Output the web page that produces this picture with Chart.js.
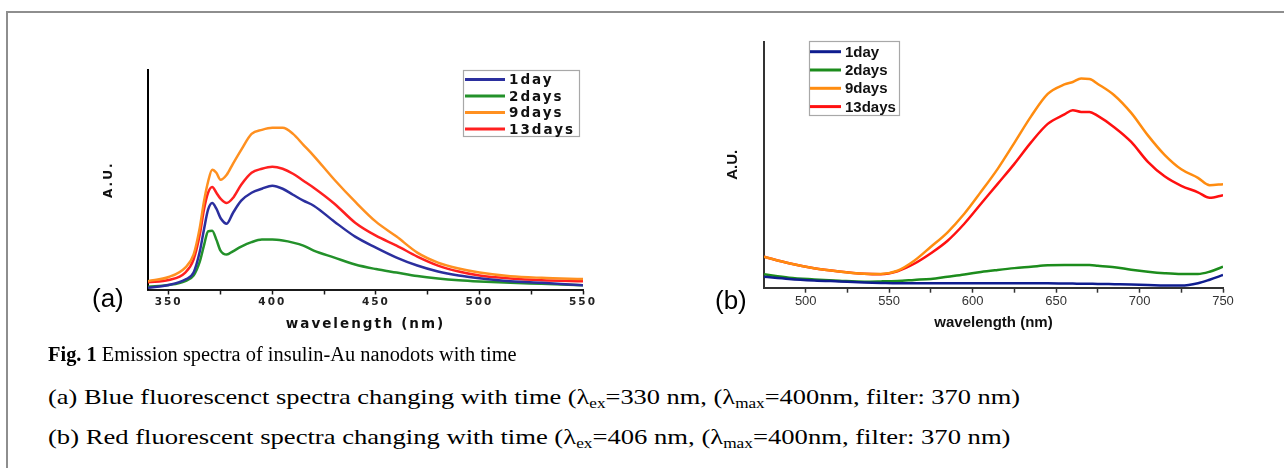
<!DOCTYPE html>
<html><head><meta charset="utf-8">
<script src="https://cdn.jsdelivr.net/npm/chart.js@4.4.1/dist/chart.umd.min.js"></script>
<style>
html,body{margin:0;padding:0;background:#fff;width:1284px;height:468px;overflow:hidden;position:relative;}
#frame{position:absolute;left:6px;top:11px;width:1400px;height:600px;border:2px solid #8e8e8e;box-sizing:border-box;}
canvas{position:absolute;top:0;}
#ca{left:0;}
#cb{left:640px;}
.panel{position:absolute;font-family:"Liberation Sans",Arial,sans-serif;font-size:26px;line-height:26px;color:#000;}
.cap{position:absolute;left:48px;font-family:"Liberation Serif","Times New Roman",serif;font-size:20px;line-height:24px;color:#000;white-space:nowrap;transform-origin:0 50%;}
.cap.big{font-size:22px;}
.cap sub{font-size:0.65em;line-height:0;vertical-align:baseline;position:relative;top:4px;}
</style></head>
<body>
<div id="frame"></div>
<canvas id="ca" width="640" height="345"></canvas>
<canvas id="cb" width="644" height="345"></canvas>
<div class="panel" style="left:92px;top:285px;">(a)</div>
<div class="panel" style="left:715px;top:287px;">(b)</div>
<div class="cap" style="top:342px;transform:scaleX(1.02);"><b>Fig. 1</b> Emission spectra of insulin-Au nanodots with time</div>
<div class="cap big" style="top:385px;transform:scaleX(1.2);">(a) Blue fluorescenct spectra changing with time (λ<sub>ex</sub>=330 nm, (λ<sub>max</sub>=400nm, filter: 370 nm)</div>
<div class="cap big" style="top:425px;transform:scaleX(1.21);">(b) Red fluorescent spectra changing with time (λ<sub>ex</sub>=406 nm, (λ<sub>max</sub>=400nm, filter: 370 nm)</div>
<script>
// ---------- data ----------
const seriesLabels = ['1day', '2days', '9days', '13days'];

// panel (a): blue emission, wavelength (nm)
const wavelengthA = [340,350,358,362,365,367,369,371,373,375,378,381,385,390,395,400,405,410,415,420,430,440,450,460,470,480,490,500,515,530,550];
const a1day   = [1.7,4.5,10,17,38,60,80,86.7,81,71.7,66,76.7,89,97,101,104,101,95,89,84,68,53,42,32,24,18,14,11.3,8.3,6.7,4.3];
const a2days  = [2.7,4.5,8.5,14,28,44,58.3,59,50,39,35,38.3,43,47.5,50,50,49,47,44,39,32,25,20.5,17,13.5,11,9.2,8,6.7,5.7,4.3];
const a9days  = [8.3,12.5,22,35,62,88,108,120,117,110,115,126,140,156,160,162,162,156,145,134,110,88,68,53,37,27,21,17,13.3,11.7,10.5];
const a13days = [7.3,9.5,17,30,55,80,97,102.7,97,91,86.7,91.7,105,117,121,123,121,116,109,102,86,67,54,44,33,24,18,14,11,9.3,8.3];
const tickLabelsA = [350,400,450,500,550];
const minorTicksA = [375,425,475,525];

// panel (b): red emission, wavelength (nm)
const wavelengthB = [475,490,505,520,535,545,555,565,575,585,595,605,615,625,635,645,655,660,665,670,675,685,695,705,715,725,735,742,750];
const b1day   = [11,8.8,7.3,6.3,5.3,4.8,4.4,4.4,4.4,4.4,4.4,4.4,4.4,4.4,4.4,4.4,4.2,4.1,4,3.9,3.8,3.5,3.2,2.8,2.2,2.2,4.5,8,12.7];
const b2days  = [13.4,10,8.3,7,6,6.3,6.8,7.8,8.8,11,13.2,15.8,17.8,19.6,21,22.5,22.7,22.7,22.7,22.7,22,20.5,18,16,14.5,13.7,13.7,16,21];
const b9days  = [31,24.5,19.5,16.3,14,13.8,17,27,41,55.5,74,96,119,145,171.5,194,203.5,206,209.4,209,204,192.5,175,152.5,133,118.5,110,102.7,103.7];
const b13days = [31,24.5,19.5,16.3,14,13.5,16.5,24,34.5,47,64,84,104,124,145.5,164,173.5,177.7,176,176,172,160.5,146,126,111.5,102,95.5,90,92.7];
const tickLabelsB = [500,550,600,650,700,750];
const minorTicksB = [525,575,625,675,725];

// ---------- styling ----------
const colorsA = ['#2b2f9e', '#23912a', '#ff9020', '#ff2020'];
const colorsB = ['#0f1d8f', '#1c8c1c', '#ff8c10', '#ff1010'];

function pts(xs, ys) { return xs.map((x, i) => ({x: x, y: ys[i]})); }
function makeSets(xs, arrs, colors) {
  return arrs.map((ys, i) => ({
    label: seriesLabels[i], data: pts(xs, ys), borderColor: colors[i], backgroundColor: colors[i],
    borderWidth: 2.5, pointRadius: 0, fill: false, cubicInterpolationMode: 'monotone'
  }));
}
function boxLegend(cfg) {
  return {
    id: 'boxLegend',
    afterDraw(chart) {
      const ctx = chart.ctx;
      ctx.save();
      ctx.letterSpacing = cfg.spacing;
      ctx.fillStyle = '#fff';
      ctx.fillRect(cfg.x, cfg.y, cfg.w, cfg.h);
      ctx.strokeStyle = '#a8a8a8';
      ctx.lineWidth = 1.2;
      ctx.strokeRect(cfg.x + 0.5, cfg.y + 0.5, cfg.w, cfg.h);
      ctx.font = cfg.font;
      ctx.textBaseline = 'middle';
      ctx.textAlign = 'left';
      chart.data.datasets.forEach((ds, i) => {
        const y = cfg.row0 + i * cfg.step;
        ctx.strokeStyle = ds.borderColor;
        ctx.lineWidth = 3;
        ctx.beginPath(); ctx.moveTo(cfg.lx0, y); ctx.lineTo(cfg.lx1, y); ctx.stroke();
        ctx.fillStyle = '#111';
        ctx.fillText(ds.label, cfg.tx, y + 1);
      });
      ctx.restore();
    }
  };
}
const spacingA = {id: 'spacingA', beforeDraw(chart) { chart.ctx.letterSpacing = '2px'; }};
const sans = '"Liberation Sans", Arial, sans-serif';
const wide = '"DejaVu Sans", Verdana, sans-serif';

function scaleX(min, max, labels, minor, h, tickFont, tickColor, titleFont, axisColor) {
  return {
    type: 'linear', min: min, max: max,
    afterBuildTicks: s => { s.ticks = labels.concat(minor).sort((a, b) => a - b).map(v => ({value: v})); },
    afterFit: s => { s.height = h; s.paddingLeft = 0; s.paddingRight = 0; },
    grid: {display: true, drawOnChartArea: false, drawTicks: true, tickLength: 5, tickWidth: 1.5, tickColor: axisColor},
    border: {display: true, color: axisColor, width: 2},
    ticks: {autoSkip: false, maxRotation: 0, minRotation: 0, padding: 1, color: tickColor, font: tickFont,
            callback: v => labels.includes(v) ? String(v) : ''},
    title: {display: true, text: 'wavelength (nm)', color: '#111', font: titleFont, padding: {top: 0, bottom: 0}}
  };
}
function scaleY(max, w, titleFont, axisColor) {
  return {
    min: 0, max: max,
    afterFit: s => { s.width = w; },
    grid: {display: false},
    border: {display: true, color: axisColor, width: 2},
    ticks: {display: false},
    title: {display: true, text: 'A.U.', color: '#111', font: titleFont, padding: {top: 0, bottom: 0}}
  };
}

new Chart(document.getElementById('ca'), {
  type: 'line',
  data: {datasets: makeSets(wavelengthA, [a1day, a2days, a9days, a13days], colorsA)},
  options: {
    responsive: false, animation: false, devicePixelRatio: 1,
    layout: {padding: {left: 102, top: 70, right: 57, bottom: 12}},
    plugins: {legend: {display: false}, tooltip: {enabled: false}},
    scales: {
      x: scaleX(340, 550, tickLabelsA, minorTicksA, 43.5,
                {family: wide, size: 10.5, weight: 'bold'}, '#222',
                {family: wide, size: 13.5, weight: 'bold'}, '#1a1a1a'),
      y: scaleY(220, 46, {family: wide, size: 12, weight: 'bold'}, '#000')
    }
  },
  plugins: [spacingA, boxLegend({x: 463, y: 70, w: 116, h: 66, row0: 79.5, step: 16.5, lx0: 465, lx1: 505, tx: 509,
                                 font: 'bold 13.5px ' + wide, spacing: '2px'})]
});

new Chart(document.getElementById('cb'), {
  type: 'line',
  data: {datasets: makeSets(wavelengthB, [b1day, b2days, b9days, b13days], colorsB)},
  options: {
    responsive: false, animation: false, devicePixelRatio: 1,
    layout: {padding: {left: 84, top: 42, right: 61, bottom: 13}},
    plugins: {legend: {display: false}, tooltip: {enabled: false}},
    scales: {
      x: scaleX(475, 750, tickLabelsB, minorTicksB, 44.3,
                {family: sans, size: 13}, '#333',
                {family: sans, size: 15, weight: 'bold'}, '#333'),
      y: scaleY(246, 40, {family: sans, size: 15, weight: 'bold'}, '#333')
    }
  },
  plugins: [boxLegend({x: 169, y: 41, w: 90, h: 74, row0: 51.7, step: 18.3, lx0: 170, lx1: 201, tx: 205,
                       font: 'bold 15px ' + sans, spacing: '0px'})]
});
</script>
</body></html>
